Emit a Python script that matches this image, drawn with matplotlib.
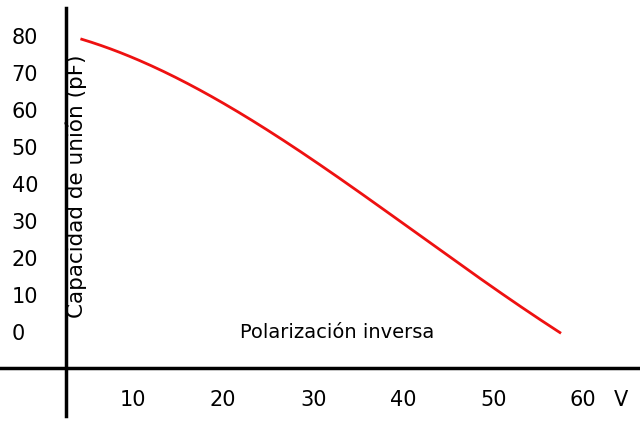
import matplotlib
matplotlib.use("Agg")
import matplotlib.pyplot as plt
import numpy as np

volts = [4.3, 10, 20, 30, 40, 50, 55, 57.4]
cap = [80, 74, 63, 47, 29.5, 13, 4, 0.5]
y_ticks = [0, 10, 20, 30, 40, 50, 60, 70, 80]
x_ticks = [10, 20, 30, 40, 50, 60]

fig = plt.figure(figsize=(6.4, 4.3), dpi=100)
ax = fig.add_axes([0, 0, 1, 1])
ax.set_xlim(-4.78, 66.3)
ax.set_ylim(-25.9, 90.3)
ax.axis('off')

c = np.polyfit(volts, cap, 3)
xs = np.linspace(volts[0], volts[-1], 200)
ax.plot(xs, np.polyval(c, xs), color='#ee1111', lw=2)

ax.plot([2.56, 2.56], [-22.2, 88.1], color='black', lw=2.5)
ax.plot([-4.78, 66.3], [-9.2, -9.2], color='black', lw=2.5)

for v in y_ticks:
    ax.text(-3.5, v, str(v), fontsize=15, va='center', ha='left')
for v in x_ticks:
    ax.text(v, -17.8, str(v), fontsize=15, va='center', ha='center')
ax.text(64.2, -17.8, 'V', fontsize=15, va='center', ha='center')
ax.text(21.9, 0.5, 'Polarización inversa', fontsize=14, va='center', ha='left')
ax.text(3.7, 40, 'Capacidad de unión (pF)', fontsize=15.5, rotation=90, va='center', ha='center')

fig.savefig('out.png', dpi=100)
